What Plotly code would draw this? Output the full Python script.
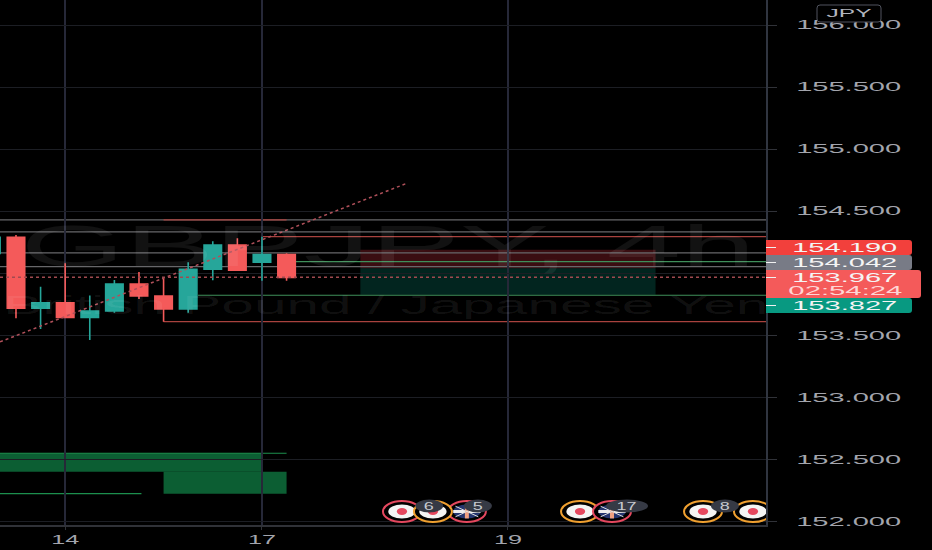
import json

import plotly.graph_objects as go

# bars, index 0 is the first full candle on the left edge
bar_index = [-1, 0, 1, 2, 3, 4, 5, 6, 7, 8, 9, 10, 11]
opens = [154.16, 154.29, 153.718, 153.763, 153.645, 153.696, 153.914, 153.817, 153.712, 154.032, 154.228, 154.089, 154.15]
highs = [154.30, 154.309, 153.892, 154.081, 153.82, 153.946, 154.01, 153.956, 154.089, 154.258, 154.282, 154.295, 154.161]
lows = [154.10, 153.637, 153.551, 153.645, 153.463, 153.682, 153.793, 153.61, 153.682, 153.944, 154.024, 153.94, 153.94]
closes = [154.29, 153.718, 153.763, 153.645, 153.696, 153.914, 153.817, 153.712, 154.032, 154.228, 154.024, 154.15, 153.967]

price_ticks = [152.0, 152.5, 153.0, 153.5, 154.0, 154.5, 155.0, 155.5, 156.0]
price_tick_labels = ["152.000", "152.500", "153.000", "153.500", "", "154.500", "155.000", "155.500", "156.000"]
time_ticks = [2, 10, 20]
time_tick_labels = ["14", "17", "19"]

X_MIN, X_MAX = -0.65, 30.49
Y_MIN, Y_MAX = 151.972, 156.2015

# (start bar, end bar, price)
gray_levels = [(X_MIN, X_MAX, 154.43), (X_MIN, X_MAX, 154.333), (X_MIN, X_MAX, 154.164), (X_MIN, X_MAX, 154.053)]
red_levels = [(6, 11, 154.43), (10, X_MAX, 154.296), (6, X_MAX, 153.61)]
green_levels = [(11, X_MAX, 154.093), (7.4, X_MAX, 153.823)]
zone_levels = [(X_MIN, 5.1, 152.224), (X_MIN, 11, 152.55)]
green_zones = [(X_MIN, 10.04, 152.40, 152.55), (6, 11, 152.224, 152.40)]

trend_x = [-0.65, 15.93]
trend_y = [153.447, 154.728]
last_price = 153.967

position_x = [14, 26]
position_stop = [154.04, 154.19]
position_target = [153.827, 154.04]

# calendar icons: bar, ring colour, has uk flag
event_bars = [15.69, 18.33, 16.95, 22.93, 24.23, 27.93, 29.96]
event_rings = ["#e5485f", "#e5485f", "#f0a030", "#f0a030", "#e5485f", "#f0a030", "#f0a030"]
event_uk = [False, True, False, False, True, False, False]
badge_bars = [16.8, 18.78, 24.84, 28.82]
badge_labels = ["6", "5", "17", "8"]

# right hand price tags: text, colour, top, bottom
tag_text = ["154.190", "154.042", "153.827"]
tag_color = ["#f2403c", "#787b86", "#089981"]
tag_top = [240, 255, 298]
tag_bottom = [255, 270, 313]


def px(x):
    return x / 766


def py(y):
    return 1 - y / 525


def round_box(x0, y0, x1, y1, r=3):
    return (
        f"M {px(x0)} {py(y0)} L {px(x1 - r)} {py(y0)} Q {px(x1)} {py(y0)} {px(x1)} {py(y0 + r)} "
        f"L {px(x1)} {py(y1 - r)} Q {px(x1)} {py(y1)} {px(x1 - r)} {py(y1)} L {px(x0)} {py(y1)} Z"
    )


shapes = []
annotations = []
text_widths = []


def add_text(text, x, y, size, color, width, family="Liberation Sans"):
    annotations.append(dict(
        text=text, xref="paper", yref="paper", x=px(x), y=py(y), xanchor="center", yanchor="middle",
        showarrow=False, font=dict(size=size, color=color, family=family),
    ))
    text_widths.append(width)


def add_level(x0, x1, price, color, width=1.3):
    shapes.append(dict(type="line", x0=x0, x1=x1, y0=price, y1=price, xref="x", yref="y",
                       line=dict(color=color, width=width), layer="below"))


for x0, x1, low, high in green_zones:
    shapes.append(dict(type="rect", x0=x0, x1=x1, y0=low, y1=high, xref="x", yref="y",
                       fillcolor="rgba(16,130,70,0.72)", line=dict(width=0), layer="below"))
shapes.append(dict(type="rect", x0=position_x[0], x1=position_x[1], y0=position_stop[0], y1=position_stop[1],
                   xref="x", yref="y", fillcolor="rgba(242,54,69,0.24)", line=dict(width=0), layer="below"))
shapes.append(dict(type="rect", x0=position_x[0], x1=position_x[1], y0=position_target[0], y1=position_target[1],
                   xref="x", yref="y", fillcolor="rgba(8,153,129,0.24)", line=dict(width=0), layer="below"))

for x0, x1, price in gray_levels:
    add_level(x0, x1, price, "#67676a")
for x0, x1, price in green_levels:
    add_level(x0, x1, price, "#3f8f5a", 1.2)
for x0, x1, price in zone_levels:
    add_level(x0, x1, price, "#1c8f4e", 1.2)
for x0, x1, price in red_levels:
    add_level(x0, x1, price, "#a8423e")

# calendar icons are stretched like the rest of the screenshot, so ellipses instead of markers
for bar, ring, uk in zip(event_bars, event_rings, event_uk):
    dy = 10.5 / 124.1
    dx = 19 / 24.6
    cy = 152 + (521.5 - 511.5) / 124.1
    shapes.append(dict(type="circle", x0=bar - dx, x1=bar + dx, y0=cy - dy, y1=cy + dy, xref="x", yref="y",
                       fillcolor="#000000", line=dict(color=ring, width=2)))
    shapes.append(dict(type="circle", x0=bar - dx * 0.72, x1=bar + dx * 0.72, y0=cy - dy * 0.66, y1=cy + dy * 0.66,
                       xref="x", yref="y", fillcolor="#24356f" if uk else "#f4f4f4", line=dict(width=0)))
    if uk:
        shapes.append(dict(type="line", x0=bar - dx * 0.72, x1=bar + dx * 0.72, y0=cy, y1=cy, xref="x", yref="y",
                           line=dict(color="#eeeeee", width=3)))
        shapes.append(dict(type="line", x0=bar, x1=bar, y0=cy - dy * 0.66, y1=cy + dy * 0.66, xref="x", yref="y",
                           line=dict(color="#f0a080", width=4)))
        shapes.append(dict(type="line", x0=bar - dx * 0.6, x1=bar + dx * 0.6, y0=cy - dy * 0.5, y1=cy + dy * 0.5,
                           xref="x", yref="y", line=dict(color="#dddddd", width=1)))
        shapes.append(dict(type="line", x0=bar - dx * 0.6, x1=bar + dx * 0.6, y0=cy + dy * 0.5, y1=cy - dy * 0.5,
                           xref="x", yref="y", line=dict(color="#dddddd", width=1)))
    else:
        shapes.append(dict(type="circle", x0=bar - dx * 0.27, x1=bar + dx * 0.27, y0=cy - dy * 0.33, y1=cy + dy * 0.33,
                           xref="x", yref="y", fillcolor="#e5485f", line=dict(width=0)))

for bar, label in zip(badge_bars, badge_labels):
    dx = (21 if len(label) == 2 else 14) / 24.6
    cy = 152 + (521.5 - 506) / 124.1
    dy = 6.4 / 124.1
    shapes.append(dict(type="circle", x0=bar - dx, x1=bar + dx, y0=cy - dy, y1=cy + dy, xref="x", yref="y",
                       fillcolor="#363a45", line=dict(width=0)))
    add_text(label, 16 + bar * 24.6, 506, 10, "#c8cad0", 20 if len(label) == 2 else 10)

# watermark
add_text("GBPJPY, 4h", 388, 245, 58, "rgba(255,255,255,0.07)", 735)
add_text("British Pound / Japanese Yen", 386, 305, 26, "rgba(255,255,255,0.07)", 765)

# price tags on the axis
for text, color, top, bottom in zip(tag_text, tag_color, tag_top, tag_bottom):
    shapes.append(dict(type="path", path=round_box(766, top, 912, bottom), xref="paper", yref="paper",
                       fillcolor=color, line=dict(width=0)))
    shapes.append(dict(type="line", x0=px(766), x1=px(776), y0=py((top + bottom) / 2), y1=py((top + bottom) / 2),
                       xref="paper", yref="paper", line=dict(color="#f0f0f0", width=1)))
    add_text(text, 844.5, (top + bottom) / 2, 12, "#f4f4f4", 105)
shapes.append(dict(type="path", path=round_box(766, 270, 921, 298), xref="paper", yref="paper",
                   fillcolor="#f45a5a", line=dict(width=0)))
shapes.append(dict(type="line", x0=px(766), x1=px(776), y0=py(277.5), y1=py(277.5),
                   xref="paper", yref="paper", line=dict(color="#f0f0f0", width=1)))
add_text(f"{last_price:.3f}", 844.5, 277.5, 12, "#f4f4f4", 105)
add_text("02:54:24", 845, 290.5, 12, "#ffd5d5", 114)

# currency button
shapes.append(dict(type="path", xref="paper", yref="paper", fillcolor="#000000", line=dict(color="#50535e", width=1),
                   path=f"M {px(820)} {py(5)} L {px(878)} {py(5)} Q {px(881)} {py(5)} {px(881)} {py(8)} "
                        f"L {px(881)} {py(19)} Q {px(881)} {py(22)} {px(878)} {py(22)} L {px(820)} {py(22)} "
                        f"Q {px(817)} {py(22)} {px(817)} {py(19)} L {px(817)} {py(8)} Q {px(817)} {py(5)} {px(820)} {py(5)} Z"))
add_text("JPY", 849, 13.5, 11, "#b2b5be", 45)

fig = go.Figure()
fig.add_trace(go.Scatter(x=trend_x, y=trend_y, mode="lines", hoverinfo="skip",
                         line=dict(color="#b0505a", width=1.5, dash="dot")))
fig.add_trace(go.Scatter(x=[X_MIN, X_MAX], y=[last_price, last_price], mode="lines", hoverinfo="skip",
                         line=dict(color="#a04a50", width=1.5, dash="dot")))
fig.add_trace(go.Candlestick(
    x=bar_index, open=opens, high=highs, low=lows, close=closes,
    increasing=dict(line=dict(color="#26a69a", width=1.6), fillcolor="#26a69a"),
    decreasing=dict(line=dict(color="#f45a5a", width=1.6), fillcolor="#f45a5a"),
    whiskerwidth=0,
))

fig.update_layout(
    width=932, height=550, margin=dict(l=0, r=166, t=0, b=25),
    paper_bgcolor="#000000", plot_bgcolor="#000000", showlegend=False, boxgap=0.29, boxgroupgap=0,
    shapes=shapes, annotations=annotations,
    font=dict(family="Liberation Sans", color="#a3a5ad", size=12),
    xaxis=dict(
        range=[X_MIN, X_MAX], tickmode="array", tickvals=time_ticks, ticktext=time_tick_labels,
        rangeslider=dict(visible=False), showgrid=True, gridcolor="#262838", gridwidth=1.5,
        showline=True, linecolor="#303238", linewidth=1.5, ticks="outside", ticklen=3, tickcolor="#303238",
        zeroline=False,
    ),
    yaxis=dict(
        range=[Y_MIN, Y_MAX], side="right", tickmode="array", tickvals=price_ticks, ticktext=price_tick_labels,
        showgrid=True, gridcolor="#1c1e24", gridwidth=1.2, showline=True, linecolor="#303540", linewidth=1.5,
        ticks="outside", ticklen=9, tickcolor="#303238", ticklabelstandoff=17, zeroline=False,
    ),
)

# the screenshot is stretched sideways, plotly has no text stretch so it is done on the svg
post_script = """
document.documentElement.style.overflow = 'hidden';
document.body.style.margin = '0';
document.body.style.background = '#000';
var widths = %s;
function stretch(el, w) {
  el.setAttribute('textLength', w);
  el.setAttribute('lengthAdjust', 'spacingAndGlyphs');
}
document.querySelectorAll('.annotation-text').forEach(function (el, i) { stretch(el, widths[i]); });
document.querySelectorAll('.ytick text').forEach(function (el) { stretch(el, 105); });
document.querySelectorAll('.xtick text').forEach(function (el) { stretch(el, 28); });
""" % json.dumps(text_widths)

fig.write_html("out.html", post_script=post_script, config=dict(displayModeBar=False))
